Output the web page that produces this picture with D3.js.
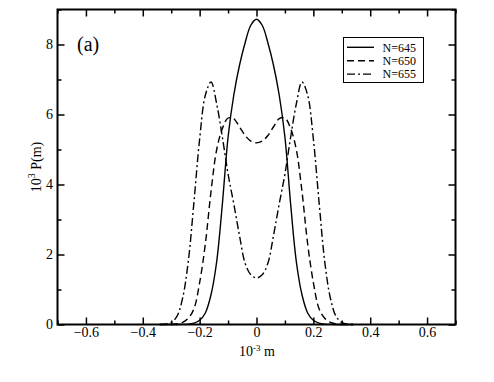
<!DOCTYPE html>
<html>
<head>
<meta charset="utf-8">
<script src="https://cdn.jsdelivr.net/npm/d3@7/dist/d3.min.js"></script>
<style>
  html, body { margin: 0; padding: 0; background: #fff; }
  svg { display: block; }
  text { font-family: "Liberation Serif", "Times New Roman", serif; fill: #000; }
</style>
</head>
<body>
<svg id="chart" width="494" height="382"></svg>
<script>
// ---- data ----
const mValues = [-0.34,-0.32,-0.30,-0.28,-0.26,-0.24,-0.22,-0.20,-0.18,-0.16,-0.14,-0.12,-0.10,-0.08,-0.06,-0.04,-0.02,0,
                  0.02,0.04,0.06,0.08,0.10,0.12,0.14,0.16,0.18,0.20,0.22,0.24,0.26,0.28,0.30,0.32,0.34];
const p645 = [0,0,0,0,0.003,0.01,0.04,0.12,0.33,0.85,1.8,3.45,5.35,6.55,7.4,8.05,8.55,8.72,
              8.55,8.05,7.4,6.55,5.35,3.45,1.8,0.85,0.33,0.12,0.04,0.01,0.003,0,0,0,0];
const p650 = [0,0,0,0.02,0.06,0.18,0.45,1.2,2.3,3.8,5.0,5.6,5.9,5.88,5.65,5.4,5.24,5.19,
              5.24,5.4,5.65,5.88,5.9,5.6,5.0,3.8,2.3,1.2,0.45,0.18,0.06,0.02,0,0,0];
const p655 = [0,0.01,0.06,0.23,0.75,1.8,3.5,5.3,6.55,6.93,6.3,5.35,4.3,3.45,2.55,1.75,1.42,1.33,
              1.42,1.75,2.55,3.45,4.3,5.35,6.3,6.93,6.55,5.3,3.5,1.8,0.75,0.23,0.06,0.01,0];
const seriesNames = ["N=645", "N=650", "N=655"];
const seriesData = [p645, p650, p655];
const seriesDash = ["none", "7,4", "8,3,2,3"];
const xTicks = [-0.6,-0.4,-0.2,0,0.2,0.4,0.6];
const xMinorTicks = [-0.7,-0.5,-0.3,-0.1,0.1,0.3,0.5,0.7];
const yTicks = [0,2,4,6,8];
const yMinorTicks = [1,3,5,7,9];

// ---- layout ----
const svg = d3.select("#chart");
const mLeft = 57.5, mRight = 455.5, mTop = 9.5, mBottom = 324.5;
const x = d3.scaleLinear().domain([-0.7, 0.7]).range([mLeft, mRight]);
const y = d3.scaleLinear().domain([0, 9]).range([mBottom, mTop]);

const fmt = d => (d === 0 ? "0" : d3.format(".1f")(d));

// axes with inward ticks
const gx = svg.append("g").attr("transform", `translate(0,${mBottom})`)
  .call(d3.axisBottom(x).tickValues(xTicks).tickSize(-7).tickPadding(3).tickFormat(fmt));
const gxm = svg.append("g").attr("transform", `translate(0,${mBottom})`)
  .call(d3.axisBottom(x).tickValues(xMinorTicks).tickSize(-4).tickFormat(""));
const gxt = svg.append("g").attr("transform", `translate(0,${mTop})`)
  .call(d3.axisTop(x).tickValues(xTicks).tickSize(-7).tickFormat(""));
const gxtm = svg.append("g").attr("transform", `translate(0,${mTop})`)
  .call(d3.axisTop(x).tickValues(xMinorTicks).tickSize(-4).tickFormat(""));
const gy = svg.append("g").attr("transform", `translate(${mLeft},0)`)
  .call(d3.axisLeft(y).tickValues(yTicks).tickSize(-7).tickPadding(4.5).tickFormat(d3.format("d")));
const gym = svg.append("g").attr("transform", `translate(${mLeft},0)`)
  .call(d3.axisLeft(y).tickValues(yMinorTicks).tickSize(-4).tickFormat(""));
const gyr = svg.append("g").attr("transform", `translate(${mRight},0)`)
  .call(d3.axisRight(y).tickValues(yTicks).tickSize(-7).tickFormat(""));
const gyrm = svg.append("g").attr("transform", `translate(${mRight},0)`)
  .call(d3.axisRight(y).tickValues(yMinorTicks).tickSize(-4).tickFormat(""));

[gx,gxm,gxt,gxtm,gy,gym,gyr,gyrm].forEach(g => {
  g.select(".domain").remove();
  g.selectAll(".tick line").attr("stroke", "#000").attr("stroke-width", 1.5);
  g.selectAll("text").attr("font-size", 14).attr("fill", "#000");
});

// curves
const line = d3.line()
  .x((d, i) => x(mValues[i]))
  .y(d => y(d))
  .curve(d3.curveCatmullRom.alpha(0.5));
seriesData.forEach((s, k) => {
  svg.append("path")
    .datum(s)
    .attr("d", line)
    .attr("fill", "none")
    .attr("stroke", "#000")
    .attr("stroke-width", 1.4)
    .attr("stroke-dasharray", seriesDash[k]);
});

// frame
svg.append("rect")
  .attr("x", mLeft).attr("y", mTop)
  .attr("width", mRight - mLeft).attr("height", mBottom - mTop)
  .attr("fill", "none").attr("stroke", "#000").attr("stroke-width", 2);

// panel label
svg.append("text").attr("x", 77).attr("y", 51).attr("font-size", 20).text("(a)");

// axis titles
const xt = svg.append("text").attr("x", 257).attr("y", 356).attr("text-anchor", "middle").attr("font-size", 14);
xt.append("tspan").text("10");
xt.append("tspan").attr("dy", -5).attr("font-size", 9).text("-3");
xt.append("tspan").attr("dy", 5).text(" m");

const yt = svg.append("text")
  .attr("transform", `translate(41,${(mTop + mBottom) / 2}) rotate(-90)`)
  .attr("text-anchor", "middle").attr("font-size", 14);
yt.append("tspan").text("10");
yt.append("tspan").attr("dy", -6).attr("font-size", 10).text("3");
yt.append("tspan").attr("dy", 6).text(" P(m)");

// legend
const lg = svg.append("g");
lg.append("rect").attr("x", 343.5).attr("y", 37.5).attr("width", 80).attr("height", 45)
  .attr("fill", "#fff").attr("stroke", "#000").attr("stroke-width", 1);
seriesNames.forEach((n, k) => {
  const ly = 47.3 + k * 13.4;
  lg.append("line").attr("x1", 347).attr("x2", 374).attr("y1", ly).attr("y2", ly)
    .attr("stroke", "#000").attr("stroke-width", 1.4).attr("stroke-dasharray", seriesDash[k]);
  lg.append("text").attr("x", 382.5).attr("y", ly + 4.2).attr("font-size", 12).text(n);
});
</script>
</body>
</html>
